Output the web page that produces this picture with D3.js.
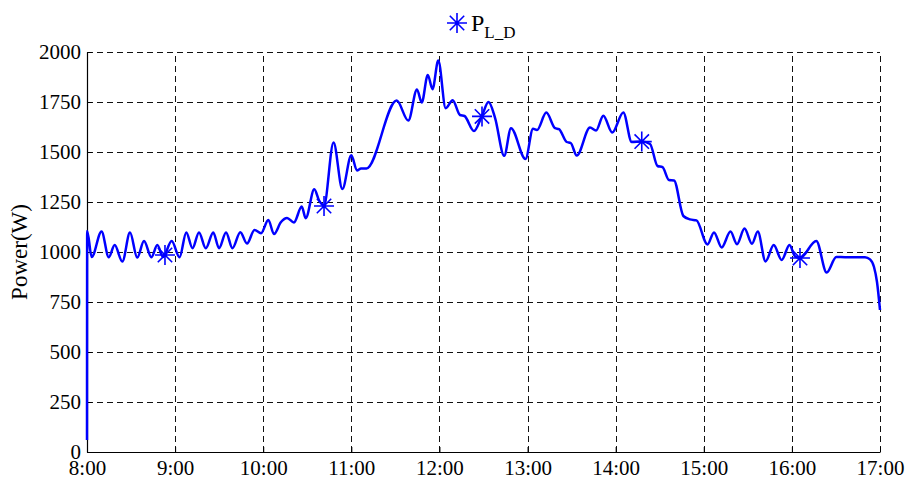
<!DOCTYPE html>
<html><head><meta charset="utf-8">
<script src="https://cdn.jsdelivr.net/npm/d3@7"></script>
<style>html,body{margin:0;padding:0;background:#fff;}svg{display:block;}</style>
</head><body>
<svg id="chart" width="907" height="479"></svg>
<script>
// Time in decimal hours, power in W
const timeHours = [8.000,8.002,8.053,8.165,8.247,8.314,8.401,8.488,8.570,8.647,8.731,8.798,8.863,8.961,9.050,9.127,9.197,9.271,9.348,9.433,9.498,9.578,9.651,9.740,9.816,9.901,9.975,10.058,10.122,10.202,10.270,10.349,10.437,10.482,10.580,10.633,10.690,10.798,10.898,11.000,11.064,11.110,11.172,11.515,11.647,11.745,11.799,11.868,11.921,11.987,12.071,12.150,12.233,12.284,12.392,12.480,12.557,12.631,12.735,12.812,12.977,13.062,13.107,13.213,13.312,13.357,13.444,13.490,13.558,13.709,13.777,13.860,13.961,14.087,14.182,14.296,14.390,14.475,14.532,14.605,14.662,14.768,14.844,14.917,15.042,15.116,15.203,15.303,15.377,15.462,15.547,15.613,15.701,15.794,15.884,15.973,16.036,16.092,16.277,16.395,16.504,16.603,16.830,16.887,16.932,16.966,17.000];
const powerW = [60,1105,975,1103,974,1035,952,1097,972,1055,974,1035,975,1055,974,1098,1019,1098,1019,1098,1019,1098,1019,1099,1042,1110,1094,1160,1090,1150,1170,1148,1227,1169,1314,1258,1233,1548,1315,1484,1408,1418,1418,1757,1657,1813,1747,1885,1814,1957,1719,1759,1685,1680,1605,1678,1750,1671,1481,1619,1465,1616,1610,1697,1619,1614,1550,1545,1482,1622,1607,1681,1597,1698,1550,1552,1540,1430,1424,1360,1358,1180,1163,1158,1038,1098,1023,1102,1039,1117,1041,1102,953,1035,960,1035,978,970,1055,897,975,974,974,963,925,850,710];
const markerHours = [8.885,10.690,12.483,14.296,16.092];
const markerPower = [985,1230,1678,1552,970];
const xTickHours = [8,9,10,11,12,13,14,15,16,17];
const xTickLabels = ["8:00","9:00","10:00","11:00","12:00","13:00","14:00","15:00","16:00","17:00"];
const yTicks = [0,250,500,750,1000,1250,1500,1750,2000];
const seriesName = "P";
const seriesSub = "L_D";
const yLabel = "Power(W)";

const svg = d3.select("#chart");
const L = 87, R = 880, T = 52, B = 452;
const x = d3.scaleLinear().domain([8,17]).range([L,R]);
const y = d3.scaleLinear().domain([0,2000]).range([B,T]);
const font = "'Liberation Serif','Times New Roman',serif";
svg.append("rect").attr("width",907).attr("height",479).attr("fill","#fff");

// grid
const g = svg.append("g").attr("shape-rendering","crispEdges");
g.selectAll(".vg").data(xTickHours.slice(1)).join("line")
  .attr("x1",d=>Math.round(x(d))+0.5).attr("x2",d=>Math.round(x(d))+0.5).attr("y1",B).attr("y2",T)
  .attr("stroke","#111").attr("stroke-width",1).attr("stroke-dasharray","6,4");
g.selectAll(".hg").data(yTicks.slice(1)).join("line")
  .attr("x1",L).attr("x2",R).attr("y1",d=>Math.round(y(d))+0.5).attr("y2",d=>Math.round(y(d))+0.5)
  .attr("stroke","#111").attr("stroke-width",1).attr("stroke-dasharray","6,4");

// axes
const xAxis = d3.axisBottom(x).tickValues(xTickHours).tickFormat((d,i)=>xTickLabels[i]).tickSizeInner(-5).tickSizeOuter(0).tickPadding(8);
const yAxis = d3.axisLeft(y).tickValues(yTicks).tickFormat(d3.format("d")).tickSizeInner(-5).tickSizeOuter(0).tickPadding(6);
const gx = svg.append("g").attr("transform",`translate(0,${B})`).call(xAxis);
const gy = svg.append("g").attr("transform",`translate(${L},0)`).call(yAxis);
[gx,gy].forEach(a=>{
  a.select(".domain").attr("stroke","#000").attr("stroke-width",1.2);
  a.selectAll(".tick line").attr("stroke","#000");
  a.selectAll("text").attr("font-family",font).attr("font-size",21).attr("fill","#000");
});

// y label
svg.append("text").attr("transform",`translate(27,${(T+B)/2}) rotate(-90)`)
  .attr("text-anchor","middle").attr("font-family",font).attr("font-size",23).text(yLabel);

// line
const data = timeHours.map((t,i)=>({t, v:powerW[i]}));
svg.append("path").datum(data)
  .attr("d", d3.line().x(d=>x(d.t)).y(d=>y(d.v)).curve(d3.curveMonotoneX))
  .attr("fill","none").attr("stroke","#0000ff").attr("stroke-width",2.5).attr("stroke-linejoin","round");

// asterisk markers
function asterisk(r){
  const d = r*0.72;
  return `M${-r},0L${r},0M0,${-r}L0,${r}M${-d},${-d}L${d},${d}M${-d},${d}L${d},${-d}`;
}
svg.selectAll(".mk").data(markerHours.map((t,i)=>({t,v:markerPower[i]}))).join("path")
  .attr("transform",d=>`translate(${x(d.t)},${y(d.v)})`)
  .attr("d",asterisk(10)).attr("stroke","#0000ff").attr("stroke-width",1.6).attr("fill","none");

// legend
svg.append("path").attr("transform","translate(457,23)").attr("d",asterisk(10))
  .attr("stroke","#0000ff").attr("stroke-width",1.6).attr("fill","none");
const lt = svg.append("text").attr("x",471).attr("y",31).attr("font-family",font).attr("font-size",24).attr("fill","#000");
lt.append("tspan").text(seriesName);
lt.append("tspan").attr("font-size",17).attr("dy",7).text(seriesSub);
</script>
</body></html>
